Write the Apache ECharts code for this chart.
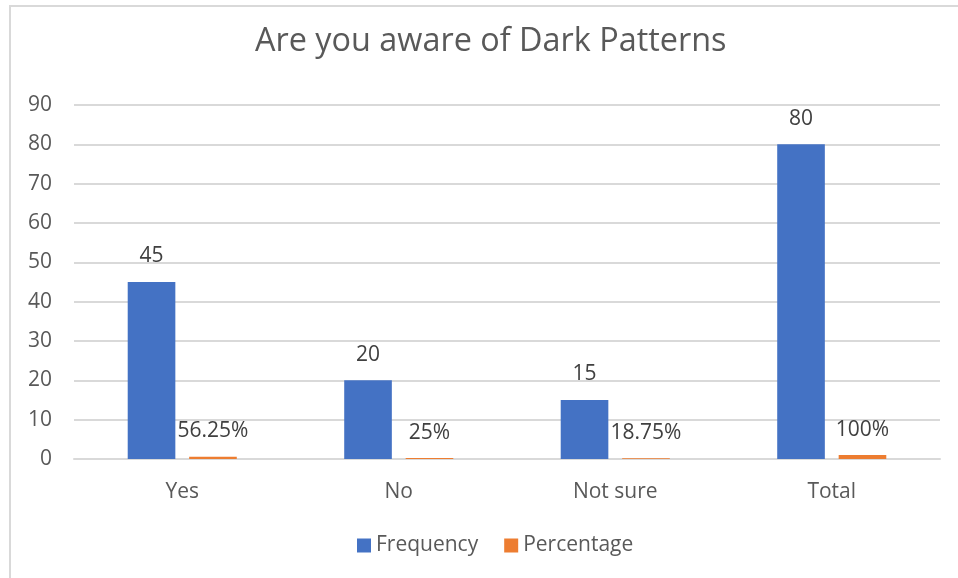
<!DOCTYPE html>
<html>
<head>
<meta charset="utf-8">
<title>Are you aware of Dark Patterns</title>
<script src="https://cdn.jsdelivr.net/npm/echarts@6/dist/echarts.min.js"></script>
<style>
  html, body { margin: 0; padding: 0; background: #ffffff; }
  #chart { width: 958px; height: 578px; }
</style>
</head>
<body>
<div id="chart"></div>
<script>
// Survey responses: awareness of dark patterns
const categories = ['Yes', 'No', 'Not sure', 'Total'];
const frequencyValues = [45, 20, 15, 80];
const percentageValues = [0.5625, 0.25, 0.1875, 1];
const yTicks = { min: 0, max: 90, interval: 10 };

const textColor = '#595959';
const labelColor = '#404040';
const fontFamily = '"Open Sans", "Noto Sans", sans-serif';

const chart = echarts.init(document.getElementById('chart'), null, { renderer: 'canvas' });

chart.setOption({
  backgroundColor: '#ffffff',
  animation: false,
  title: {
    text: 'Are you aware of Dark Patterns',
    left: 250,
    top: 21,
    textStyle: { color: textColor, fontFamily, fontSize: 32.4, fontWeight: 'normal' }
  },
  legend: {
    bottom: 17,
    left: 352,
    itemWidth: 14,
    itemHeight: 14,
    itemGap: 26,
    icon: 'rect',
    textStyle: { color: textColor, fontFamily, fontSize: 21 },
    data: ['Frequency', 'Percentage']
  },
  grid: { left: 74, right: 18, top: 105, bottom: 119, containLabel: false },
  xAxis: {
    type: 'category',
    data: categories,
    axisLine: { lineStyle: { color: '#D9D9D9', width: 2 } },
    axisTick: { show: false },
    axisLabel: { color: textColor, fontFamily, fontSize: 21, margin: 23 }
  },
  yAxis: {
    type: 'value',
    min: yTicks.min,
    max: yTicks.max,
    interval: yTicks.interval,
    axisLine: { show: false },
    axisTick: { show: false },
    splitLine: { lineStyle: { color: '#D9D9D9', width: 2 } },
    axisLabel: { color: textColor, fontFamily, fontSize: 21, margin: 22 }
  },
  series: [
    {
      name: 'Frequency',
      type: 'bar',
      data: frequencyValues,
      barWidth: '22%',
      barGap: '29%',
      itemStyle: { color: '#4472C4' },
      label: {
        show: true,
        position: 'top',
        distance: 15,
        color: labelColor,
        fontFamily,
        fontSize: 21
      }
    },
    {
      name: 'Percentage',
      type: 'bar',
      data: percentageValues,
      barWidth: '22%',
      itemStyle: { color: '#ED7D31' },
      label: {
        show: true,
        position: 'top',
        distance: 15,
        color: labelColor,
        fontFamily,
        fontSize: 21,
        formatter: p => (Math.round(p.value * 10000) / 100) + '%'
      }
    }
  ],
  graphic: [
    { type: 'line', shape: { x1: 9, y1: 6, x2: 958, y2: 6 }, style: { stroke: '#D9D9D9', lineWidth: 2 }, silent: true },
    { type: 'line', shape: { x1: 10, y1: 5, x2: 10, y2: 578 }, style: { stroke: '#D9D9D9', lineWidth: 2 }, silent: true }
  ]
});
</script>
</body>
</html>
